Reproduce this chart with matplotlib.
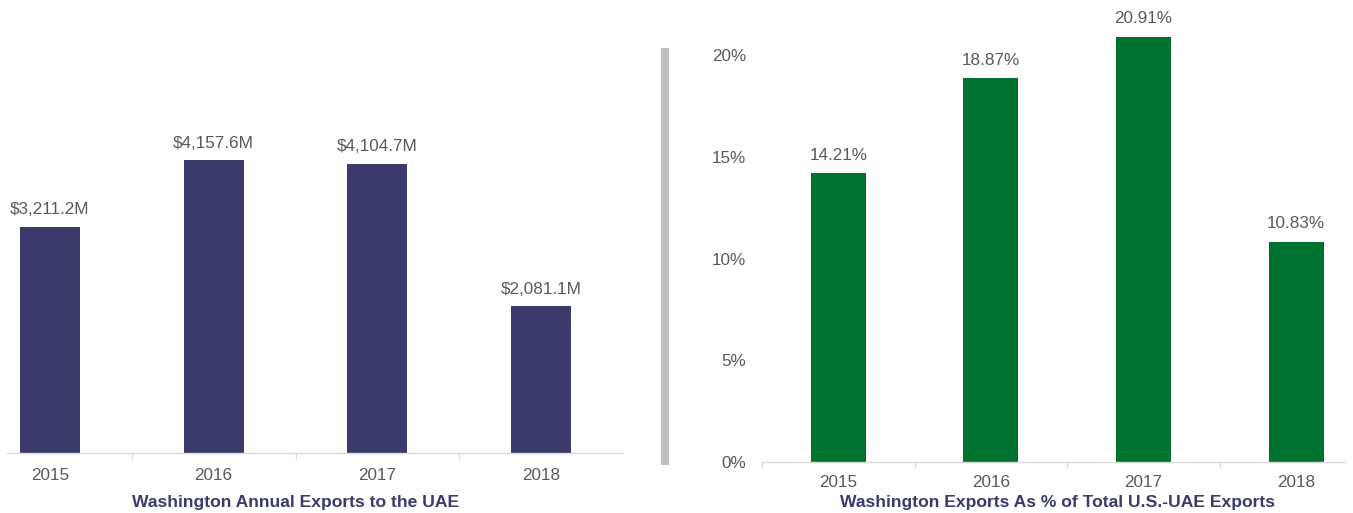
import matplotlib
matplotlib.use("Agg")
import matplotlib.pyplot as plt
from matplotlib.patches import Rectangle
from matplotlib.ticker import FixedLocator

plt.rcParams['font.family'] = ['Liberation Sans', 'DejaVu Sans']

years = ["2015", "2016", "2017", "2018"]
exports_musd = [3211.2, 4157.6, 4104.7, 2081.1]
export_labels = ["$3,211.2M", "$4,157.6M", "$4,104.7M", "$2,081.1M"]
share_pct = [14.21, 18.87, 20.91, 10.83]
share_labels = ["14.21%", "18.87%", "20.91%", "10.83%"]
share_ticks = [0, 5, 10, 15, 20]
share_ticklabels = ["0%", "5%", "10%", "15%", "20%"]
title_left = "Washington Annual Exports to the UAE"
title_right = "Washington Exports As % of Total U.S.-UAE Exports"

W, H = 1353, 513
fig = plt.figure(figsize=(W / 100, H / 100), dpi=100)

NAVY = "#3b3a6b"
GREEN = "#00722f"
GRAY_TXT = "#595959"
AXIS = "#d9d9d9"
FS = 12.3

def px_axes(x0, x1, ytop, ybot):
    return fig.add_axes([x0 / W, (H - ybot) / H, (x1 - x0) / W, (ybot - ytop) / H])

def style(ax, pad):
    for s in ["top", "right", "left"]:
        ax.spines[s].set_visible(False)
    ax.spines["bottom"].set_color(AXIS)
    ax.spines["bottom"].set_linewidth(1.0)
    xs = range(len(years))
    ax.set_xticks(list(xs))
    ax.set_xticklabels(years)
    ax.xaxis.set_minor_locator(FixedLocator([i + 0.5 for i in range(len(years) - 1)] + [-0.5]))
    ax.tick_params(axis="x", which="major", length=0, pad=pad, labelsize=FS, labelcolor=GRAY_TXT)
    ax.tick_params(axis="x", which="minor", length=4, width=1.0, color=AXIS, direction="out")

# Left chart
axL = px_axes(7, 623, 0, 453)
x = list(range(len(years)))
axL.bar(x, exports_musd, width=0.366, color=NAVY)
axL.set_xlim(-0.262, 3.5)
axL.set_ylim(0, 6428)
axL.set_yticks([])
style(axL, 10.5)
for i, (v, t) in enumerate(zip(exports_musd, export_labels)):
    axL.annotate(t, (i, v), xytext=(0, 17), textcoords="offset pixels",
                 ha="center", va="center", fontsize=FS, color=GRAY_TXT)

# Right chart
axR = px_axes(762, 1345, 0, 462)
axR.bar(x, share_pct, width=0.36, color=GREEN)
axR.set_xlim(-0.5, 3.32)
axR.set_ylim(0, 22.72)
axR.set_yticks(share_ticks)
axR.set_yticklabels(share_ticklabels)
axR.tick_params(axis="y", length=0, pad=11.5, labelsize=FS, labelcolor=GRAY_TXT)
style(axR, 9.5)
for i, (v, t) in enumerate(zip(share_pct, share_labels)):
    axR.annotate(t, (i, v), xytext=(0, 18), textcoords="offset pixels",
                 ha="center", va="center", fontsize=FS, color=GRAY_TXT)

# Titles
fig.text(296 / W, 1 - 502 / H, title_left, ha="center", va="center",
         fontsize=12.6, fontweight="bold", color=NAVY)
fig.text(1058 / W, 1 - 502 / H, title_right, ha="center", va="center",
         fontsize=12.6, fontweight="bold", color=NAVY)

# Separator bar
fig.add_artist(Rectangle((661 / W, 1 - 465 / H), 8 / W, (465 - 48) / H,
                         transform=fig.transFigure, color="#bfbfbf", lw=0))

fig.savefig("out.png", dpi=100)
